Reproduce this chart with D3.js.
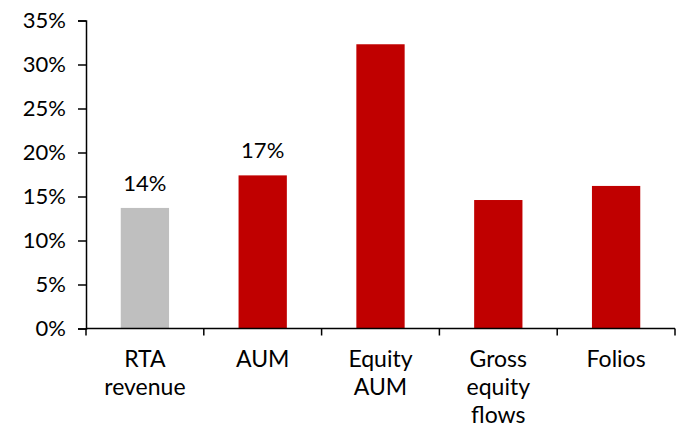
<!DOCTYPE html>
<html>
<head>
<meta charset="utf-8">
<script src="https://cdn.jsdelivr.net/npm/d3@7"></script>
<style>
  body { margin: 0; background: #fff; }
  text { font-family: Lato, "Open Sans", sans-serif; fill: #000; }
</style>
</head>
<body>
<div id="chart"></div>
<script>
// values
var categories = [["RTA", "revenue"], ["AUM"], ["Equity", "AUM"], ["Gross", "equity", "flows"], ["Folios"]];
var growth = [13.7, 17.4, 32.3, 14.6, 16.2];
var barColors = ["#BFBFBF", "#C00000", "#C00000", "#C00000", "#C00000"];
var dataLabels = ["14%", "17%", null, null, null];
var yTicks = [0, 5, 10, 15, 20, 25, 30, 35];

var width = 683, height = 428;
var margin = { top: 20.5, right: 8, bottom: 100, left: 86 };

var svg = d3.select("#chart").append("svg")
  .attr("width", width)
  .attr("height", height);

var x = d3.scaleBand()
  .domain(d3.range(categories.length))
  .range([margin.left, width - margin.right])
  .paddingInner(0.59)
  .paddingOuter(0.295);

var y = d3.scaleLinear()
  .domain([0, 35])
  .range([height - margin.bottom + 0.5, margin.top]);

// bars
svg.selectAll("rect.bar")
  .data(growth)
  .enter().append("rect")
  .attr("class", "bar")
  .attr("x", function(d, i) { return x(i); })
  .attr("width", x.bandwidth())
  .attr("y", function(d) { return y(d); })
  .attr("height", function(d) { return y(0) - y(d); })
  .attr("fill", function(d, i) { return barColors[i]; });

// value labels
svg.selectAll("text.val")
  .data(growth)
  .enter().filter(function(d, i) { return dataLabels[i]; })
  .append("text")
  .attr("class", "val")
  .attr("x", function(d, i) { return x(i) + x.bandwidth() / 2; })
  .attr("y", function(d) { return y(d) - 17; })
  .attr("text-anchor", "middle")
  .style("font-size", "22px")
  .text(function(d, i) { return dataLabels[i]; });

// y axis
var yAxis = d3.axisLeft(y)
  .tickValues(yTicks)
  .tickFormat(function(d) { return d + "%"; })
  .tickSize(8)
  .tickPadding(12);

var gy = svg.append("g")
  .attr("transform", "translate(" + margin.left + ",0)")
  .call(yAxis);
gy.select(".domain").attr("stroke", "#000").attr("stroke-width", 1.5);
gy.selectAll(".tick line").attr("stroke", "#000").attr("stroke-width", 1.5);
gy.selectAll(".tick text").style("font-size", "22px").style("font-family", "Lato, sans-serif");

// x axis: boundary ticks between categories
var xEdge = d3.scaleLinear()
  .domain([0, categories.length])
  .range([margin.left, width - margin.right]);

var gx = svg.append("g");
gx.append("line")
  .attr("x1", margin.left).attr("x2", width - margin.right)
  .attr("y1", y(0)).attr("y2", y(0))
  .attr("stroke", "#000").attr("stroke-width", 1.5);
gx.selectAll("line.edge")
  .data(d3.range(categories.length + 1))
  .enter().append("line")
  .attr("class", "edge")
  .attr("x1", function(d) { return xEdge(d); })
  .attr("x2", function(d) { return xEdge(d); })
  .attr("y1", y(0)).attr("y2", y(0) + 7)
  .attr("stroke", "#000").attr("stroke-width", 1.5);

var labels = gx.selectAll("text.cat")
  .data(categories)
  .enter().append("text")
  .attr("class", "cat")
  .attr("text-anchor", "middle")
  .style("font-size", "23px")
  .attr("transform", function(d, i) {
    return "translate(" + (x(i) + x.bandwidth() / 2) + "," + (y(0) + 38) + ")";
  });

labels.selectAll("tspan")
  .data(function(d) { return d; })
  .enter().append("tspan")
  .attr("x", 0)
  .attr("dy", function(d, j) { return j === 0 ? 0 : 28; })
  .text(function(d) { return d; });
</script>
</body>
</html>
